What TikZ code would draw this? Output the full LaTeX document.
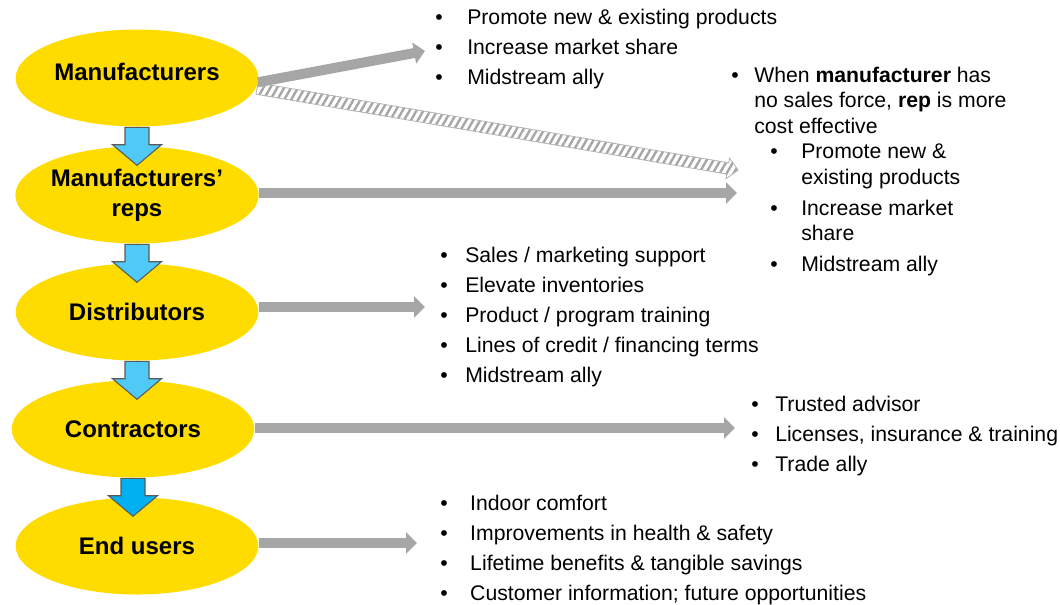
\documentclass[tikz,border=0pt]{standalone}
\usepackage{fontspec}
\setmainfont{Liberation Sans}
\usepackage{tikz}
\usetikzlibrary{shapes.geometric}
\usetikzlibrary{shapes.arrows}
\usetikzlibrary{arrows.meta}
\usetikzlibrary{calc}
\usetikzlibrary{patterns.meta}
\definecolor{stageyellow}{HTML}{FFDC00}
\definecolor{flowblue}{HTML}{4FC9F5}
\definecolor{flowdeep}{HTML}{00B0F0}
\definecolor{edgegray}{HTML}{5A5A5A}
\definecolor{linkgray}{HTML}{A6A6A6}
\definecolor{hatchgray}{HTML}{B4B4B4}
\newcommand{\bul}[1]{\makebox[#1][l]{\textbullet}}
\tikzset{
	stage/.style={ellipse,fill=stageyellow,minimum width=182pt,minimum height=72.75pt,
		inner sep=0pt,align=center,font=\fontsize{18}{22.5}\selectfont\bfseries},
	flow/.style={single arrow,draw=edgegray,line width=0.8pt,fill=flowblue,rotate=-90,anchor=tail,
		minimum height=28.5pt,inner xsep=0pt,inner ysep=8.6pt,single arrow head extend=9.4pt,
		single arrow tip angle=100},
	link/.style={draw=linkgray,line width=7.5pt,-{Triangle[width=15.75pt,length=8.25pt]}},
	hatch/.style={single arrow,draw=hatchgray,line width=0.6pt,anchor=tail,inner xsep=0pt,
		inner ysep=3.4pt,single arrow head extend=3.6pt,
		pattern={Lines[angle=60,distance=4.5pt,line width=1.8pt]},pattern color=linkgray},
	notes/.style={anchor=base west,inner sep=0pt,font=\fontsize{15.9}{22.5}\selectfont}
}

\begin{document}
\begin{tikzpicture}[x=0.75pt,y=-0.75pt,node distance=87.75pt]
		\useasboundingbox (0,0) rectangle (1060,604);
		% supply chain
		\node[stage,text depth=10pt] (mfr) at (137,78)                       {Manufacturers};
		\node[stage] (reps)  [below of=mfr]                                  {Manufacturers’\\reps};
		\node[stage] (dist)  [below of=reps]                                 {Distributors};
		\node[stage] (contr) [below of=dist,xshift=-3pt]                     {Contractors};
		\node[stage] (users) [below of=contr,xshift=3pt]                     {End users};
		\node[flow] (f1) at (mfr.south)   {};
		\node[flow] (f2) at (reps.south)  {};
		\node[flow] (f3) at (dist.south)  {};
		\node[flow,fill=flowdeep] (f4) at (contr.south) {};

		% notes
		\node[notes] (mfrnotes) at (435,24.5) {\begin{tabular}[t]{@{}l@{}}
			\bul{24pt}Promote new \& existing products\\
			\bul{24pt}Increase market share\\
			\bul{24pt}Midstream ally
		\end{tabular}};
		\node[notes,font=\fontsize{15.9}{19.1}\selectfont] (repnotes) at (731,82.5) {\begin{tabular}[t]{@{}l@{}}
			\bul{17.25pt}When \textbf{manufacturer} has\\
			\hspace{17.25pt}no sales force, \textbf{rep} is more\\
			\hspace{17.25pt}cost effective\\
			\hspace{29.25pt}\bul{23.25pt}Promote new \&\\
			\hspace{52.5pt}existing products\\[4.2pt]
			\hspace{29.25pt}\bul{23.25pt}Increase market\\
			\hspace{52.5pt}share\\[4.2pt]
			\hspace{29.25pt}\bul{23.25pt}Midstream ally
		\end{tabular}};
		\node[notes] (distnotes) at (440,262.5) {\begin{tabular}[t]{@{}l@{}}
			\bul{18.75pt}Sales / marketing support\\
			\bul{18.75pt}Elevate inventories\\
			\bul{18.75pt}Product / program training\\
			\bul{18.75pt}Lines of credit / financing terms\\
			\bul{18.75pt}Midstream ally
		\end{tabular}};
		\node[notes] (contrnotes) at (751,411.5) {\begin{tabular}[t]{@{}l@{}}
			\bul{18pt}Trusted advisor\\
			\bul{18pt}Licenses, insurance \& training\\
			\bul{18pt}Trade ally
		\end{tabular}};
		\node[notes] (usernotes) at (440,510.5) {\begin{tabular}[t]{@{}l@{}}
			\bul{22.5pt}Indoor comfort\\
			\bul{22.5pt}Improvements in health \& safety\\
			\bul{22.5pt}Lifetime benefits \& tangible savings\\
			\bul{22.5pt}Customer information; future opportunities
		\end{tabular}};

		% arrow ends
		\coordinate (mfrtip)   at (425,51);
		\coordinate (reptip)   at (737,170);
		\coordinate (repstip)  at (737,193);
		\coordinate (disttip)  at (425,307);
		\coordinate (contrtip) at (735,428);
		\coordinate (userstip) at (417,543);

		\path let \p1=($(reptip)-(mfr.-5)$), \n1={atan2(\y1,\x1)}, \n2={veclen(\x1,\y1)} in
			node[hatch,rotate=\n1,minimum height=\n2] (h1) at (mfr.-5) {};
		\draw[link] (mfr.-2) -- (mfrtip);
		\draw[link] (reps.east |- repstip) -- (repstip);
		\draw[link] (dist.east |- disttip) -- (disttip);
		\draw[link] (contr.east |- contrtip) -- (contrtip);
		\draw[link] (users.east |- userstip) -- (userstip);
\end{tikzpicture}
\end{document}
